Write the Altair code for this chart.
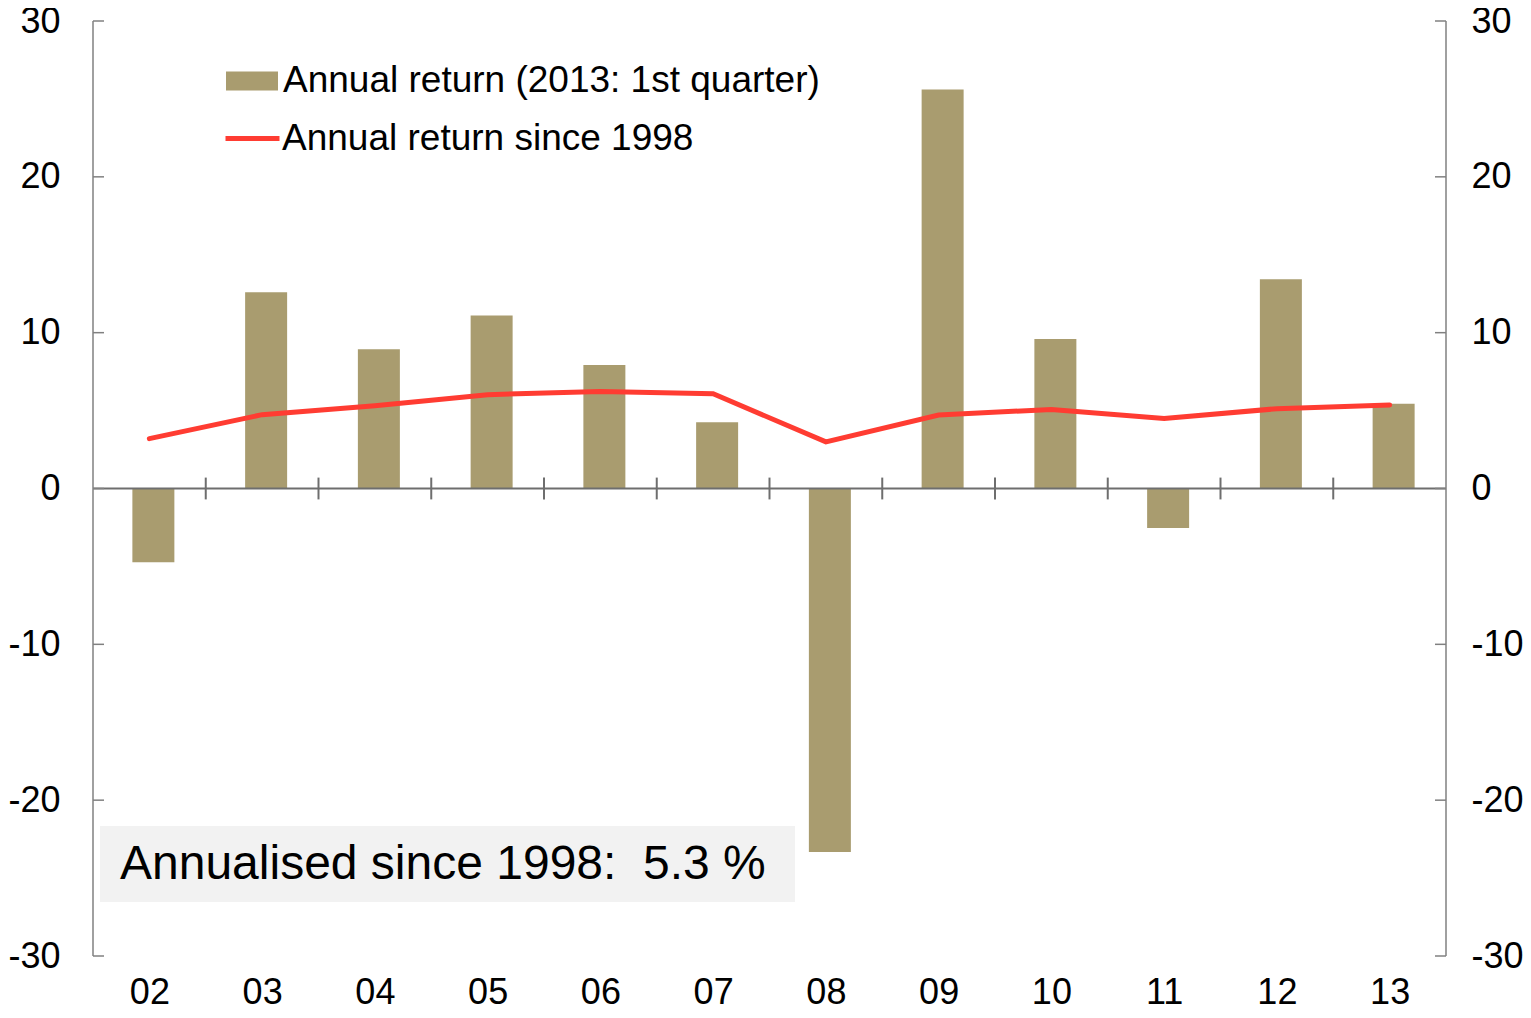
import json
import altair as alt
import pandas as pd

# ---- data ----
years = ["02", "03", "04", "05", "06", "07", "08", "09", "10", "11", "12", "13"]
annual_return = [-4.74, 12.6, 8.94, 11.1, 7.92, 4.25, -23.32, 25.6, 9.6, -2.54, 13.43, 5.44]
since_1998 = [3.2, 4.74, 5.31, 6.02, 6.23, 6.08, 2.99, 4.72, 5.07, 4.5, 5.12, 5.36]
y_ticks = [-30, -20, -10, 0, 10, 20, 30]
bar_label = "Annual return (2013: 1st quarter)"
line_label = "Annual return since 1998"
note_text = "Annualised since 1998:\u00a0 5.3 %"

BAR = "#a99c6f"
RED = "#ff3c32"
AXIS = "#808080"
FONT = "Liberation Sans"
W, H = 1353, 935

df = pd.DataFrame({
    "pos": [i + 0.5 for i in range(len(years))],
    "year": years,
    "ret": annual_return,
    "avg": since_1998,
    "bar_series": bar_label,
    "line_series": line_label,
})
bounds = pd.DataFrame({"b": list(range(1, len(years)))})
ticks_df = pd.DataFrame({"v": y_ticks})
note_df = pd.DataFrame({"t": [note_text]})

label_expr = "%s[floor(datum.value)]" % json.dumps(years)

x_scale = alt.Scale(domain=[0, len(years)], nice=False, zero=False, padding=0)
y_scale = alt.Scale(domain=[-30, 30], nice=False, padding=0)

x_axis = alt.Axis(values=[i + 0.5 for i in range(len(years))], labelExpr=label_expr,
                  domain=False, ticks=False, grid=False, labelFontSize=36,
                  labelFont=FONT, labelColor="black", labelPadding=19, title=None)
y_left = alt.Axis(values=y_ticks, domain=False, ticks=False, grid=False, orient="left",
                  labelExpr="'' + datum.value",
                  labelFontSize=36, labelFont=FONT, labelColor="black", labelPadding=33,
                  title=None)
y_right = alt.Axis(values=y_ticks, domain=False, ticks=False, grid=False, orient="right",
                   labelExpr="'' + datum.value",
                   labelFontSize=36, labelFont=FONT, labelColor="black", labelPadding=25,
                   title=None)

base = alt.Chart(df)

bars = base.mark_bar(size=42, xOffset=4).encode(
    x=alt.X("pos:Q", scale=x_scale, axis=x_axis),
    y=alt.Y("ret:Q", scale=y_scale, axis=y_left),
    fill=alt.Fill("bar_series:N", scale=alt.Scale(range=[BAR]),
                  legend=alt.Legend(title=None, orient="none", legendX=133, legendY=34,
                                    symbolType="M-1,-0.365H1V0.365H-1Z", symbolSize=2704,
                                    symbolStrokeWidth=0, labelFontSize=37, labelFont=FONT,
                                    labelColor="black", labelLimit=900, labelOffset=5,
                                    padding=0)),
)

line = base.mark_line(strokeWidth=5, strokeCap="round").encode(
    x=alt.X("pos:Q", scale=x_scale),
    y=alt.Y("avg:Q", scale=y_scale, axis=y_right),
    stroke=alt.Stroke("line_series:N", scale=alt.Scale(range=[RED]),
                      legend=alt.Legend(title=None, orient="none", legendX=130, legendY=88,
                                        symbolType="stroke", symbolSize=2916,
                                        symbolStrokeWidth=5, labelFontSize=37,
                                        labelFont=FONT, labelColor="black",
                                        labelLimit=900, labelOffset=0, padding=0)),
)

zero_line = alt.Chart(ticks_df).transform_filter("datum.v == 0").mark_rule(
    color="#6e6e6e", strokeWidth=2).encode(
    y=alt.Y("v:Q", scale=y_scale, axis=None), x=alt.value(0), x2=alt.value(W))

cat_ticks = alt.Chart(bounds).mark_rule(color="#6e6e6e", strokeWidth=2).encode(
    x=alt.X("b:Q", scale=x_scale),
    y=alt.YDatum(-0.7, scale=y_scale, axis=None),
    y2=alt.Y2Datum(0.7))

left_dom = alt.Chart(ticks_df).transform_filter("datum.v == 30").mark_rule(
    color=AXIS, strokeWidth=1.5).encode(x=alt.value(0), y=alt.value(0), y2=alt.value(H))
right_dom = alt.Chart(ticks_df).transform_filter("datum.v == 30").mark_rule(
    color=AXIS, strokeWidth=1.5).encode(x=alt.value(W), y=alt.value(0), y2=alt.value(H))
left_ticks = alt.Chart(ticks_df).mark_rule(color=AXIS, strokeWidth=1.5).encode(
    y=alt.Y("v:Q", scale=y_scale, axis=None), x=alt.value(0), x2=alt.value(11))
right_ticks = alt.Chart(ticks_df).mark_rule(color=AXIS, strokeWidth=1.5).encode(
    y=alt.Y("v:Q", scale=y_scale, axis=None), x=alt.value(W - 11), x2=alt.value(W))

note_box = alt.Chart(note_df).mark_rect(color="#f2f2f2").encode(
    x=alt.value(7), x2=alt.value(702), y=alt.value(805), y2=alt.value(881))
note = alt.Chart(note_df).mark_text(align="left", baseline="middle", fontSize=48,
                                    font=FONT, color="black").encode(
    x=alt.value(27), y=alt.value(844), text="t:N")

chart = alt.layer(
    bars, note_box, zero_line, cat_ticks, left_dom, right_dom, left_ticks, right_ticks,
    line, note
).resolve_axis(y="independent").properties(
    width=W, height=H,
    autosize=alt.AutoSizeParams(type="none"),
    padding={"left": 85, "top": 13, "right": 77, "bottom": 54},
).configure_view(stroke=None)

chart.save("out.html", embed_options={"renderer": "svg", "actions": False})
